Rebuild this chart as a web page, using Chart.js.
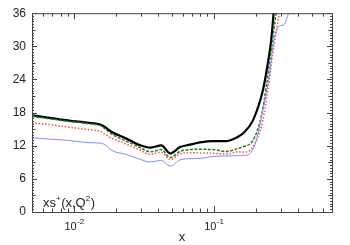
<!DOCTYPE html>
<html>
<head>
<meta charset="utf-8">
<script src="https://cdn.jsdelivr.net/npm/chart.js@4/dist/chart.umd.min.js"></script>
<style>
  html, body { margin: 0; padding: 0; background: #fff; }
  #wrap { width: 350px; height: 245px; position: relative; }
</style>
</head>
<body>
<div id="wrap"><canvas id="chart"></canvas></div>
<script>
// common x grid for the low-x part of the curves
const xGrid = [0.005, 0.00665, 0.0092, 0.0128, 0.01554, 0.0166, 0.0186, 0.0234, 0.0289, 0.0352, 0.0421, 0.0487, 0.0574, 0.0676, 0.0796, 0.0984, 0.1237, 0.148];

const blackY = [17.5, 17.05, 16.55, 16.15, 15.8, 15.4, 14.5, 13.35, 12.2, 11.65, 12.05, 10.6, 11.75, 12.2, 12.6, 12.85, 12.85, 13.6];
const greenY = [17.3, 16.9, 16.4, 16.0, 15.6, 15.1, 14.1, 12.9, 11.8, 10.9, 11.3, 9.85, 11.0, 11.3, 11.35, 11.3, 10.95, 11.5];
const redY   = [16.1, 15.85, 15.35, 14.9, 14.55, 14.1, 13.35, 12.35, 11.35, 10.45, 10.8, 9.5, 10.55, 10.75, 10.7, 10.65, 10.5, 10.9];
const blueY  = [13.45, 13.2, 12.95, 12.55, 12.45, 12.2, 11.15, 10.45, 9.65, 9.05, 9.35, 8.3, 9.45, 9.65, 9.7, 10.05, 10.15, 10.2];

// steep rise at high x, each curve its own points
const blackTailX = [0.1614, 0.190, 0.2238, 0.2428, 0.2567, 0.2676];
const blackTailY = [14.2, 16.55, 21.95, 26.8, 30.95, 36.0];
const greenTailX = [0.1614, 0.190, 0.218, 0.2365, 0.2567, 0.2786];
const greenTailY = [11.8, 12.95, 17.15, 22.55, 29.2, 36.0];
const redTailX   = [0.1614, 0.190, 0.2238, 0.2428, 0.2634, 0.2938];
const redTailY   = [10.85, 11.75, 16.55, 21.95, 28.6, 36.0];
const blueTailX  = [0.166, 0.185, 0.2008, 0.2238, 0.2497, 0.271, 0.294, 0.319, 0.331, 0.342];
const blueTailY  = [10.25, 10.85, 12.95, 18.35, 24.95, 31.6, 33.65, 33.95, 34.9, 36.0];

const yTicks = [0, 6, 12, 18, 24, 30, 36];
const xTickValues = [0.01, 0.1];
const xTickExps = ['-2', '-1'];

const FONT = "'Liberation Sans', Arial, Helvetica, sans-serif";

const toPoints = (xs, ys, tx, ty) =>
    xs.map((x, i) => ({ x: x, y: ys[i] })).concat(tx.map((x, i) => ({ x: x, y: ty[i] })));

// frame, inward ticks, superscript labels
const decorations = {
    id: 'decorations',
    afterDraw(chart) {
        const ctx = chart.ctx;
        const a = chart.chartArea;
        const xs = chart.scales.x;
        const ys = chart.scales.y;
        ctx.save();
        ctx.strokeStyle = '#444';
        ctx.lineWidth = 1;
        ctx.strokeRect(a.left + 0.5, a.top + 0.5, a.right - a.left, a.bottom - a.top);

        ctx.beginPath();
        // y ticks (left and right)
        for (let v = 0; v <= 36.001; v += 0.5) {
            const py = Math.round(ys.getPixelForValue(v)) + 0.5;
            let len = 2;
            if (Math.abs(v % 6) < 0.01) len = 5;
            else if (Math.abs(v % 3) < 0.01) len = 3.5;
            ctx.moveTo(a.left, py); ctx.lineTo(a.left + len, py);
            ctx.moveTo(a.right, py); ctx.lineTo(a.right - len, py);
        }
        // x ticks (bottom and top)
        const decades = [0.001, 0.01, 0.1];
        decades.forEach(d => {
            for (let m = 1; m <= 9; m++) {
                const v = m * d;
                if (v < xs.min || v > xs.max) continue;
                const px = Math.round(xs.getPixelForValue(v)) + 0.5;
                const len = m === 1 ? 6 : 3.5;
                ctx.moveTo(px, a.bottom); ctx.lineTo(px, a.bottom - len);
                ctx.moveTo(px, a.top); ctx.lineTo(px, a.top + len);
            }
        });
        ctx.stroke();

        // x tick labels 10^-n
        ctx.fillStyle = '#222';
        ctx.textBaseline = 'alphabetic';
        xTickValues.forEach((v, i) => {
            const px = xs.getPixelForValue(v);
            ctx.font = '11px ' + FONT;
            const w1 = ctx.measureText('10').width;
            ctx.font = '8px ' + FONT;
            const w2 = ctx.measureText(xTickExps[i]).width;
            const x0 = px - (w1 + w2) / 2;
            ctx.font = '11px ' + FONT;
            ctx.textAlign = 'left';
            ctx.fillText('10', x0, a.bottom + 18);
            ctx.font = '8px ' + FONT;
            ctx.fillText(xTickExps[i], x0 + w1 + 0.5, a.bottom + 12);
        });

        // curve label inside the plot
        let cx = a.left + 11;
        const base = a.bottom - 5;
        const parts = [['xs', 13, 0], ['+', 8, -6], ['(x,Q', 13, 0], ['2', 8, -6], [')', 13, 0]];
        ctx.textAlign = 'left';
        parts.forEach(p => {
            ctx.font = p[1] + 'px ' + FONT;
            ctx.fillText(p[0], cx, base + p[2]);
            cx += ctx.measureText(p[0]).width + (p[1] < 10 ? 0.5 : 0);
        });
        ctx.restore();
    }
};

new Chart(document.getElementById('chart'), {
    type: 'line',
    data: {
        datasets: [
            {
                label: 'blue',
                data: toPoints(xGrid, blueY, blueTailX, blueTailY),
                borderColor: '#7f8cff',
                borderWidth: 1,
                pointRadius: 0,
                cubicInterpolationMode: 'monotone'
            },
            {
                label: 'red',
                data: toPoints(xGrid, redY, redTailX, redTailY),
                borderColor: '#ff4a4a',
                borderWidth: 1.5,
                borderDash: [1.5, 1.8],
                pointRadius: 0,
                cubicInterpolationMode: 'monotone'
            },
            {
                label: 'green',
                data: toPoints(xGrid, greenY, greenTailX, greenTailY),
                borderColor: '#1e7a1e',
                borderWidth: 1.5,
                borderDash: [3, 1.5],
                pointRadius: 0,
                cubicInterpolationMode: 'monotone'
            },
            {
                label: 'black',
                data: toPoints(xGrid, blackY, blackTailX, blackTailY),
                borderColor: '#000',
                borderWidth: 2.2,
                pointRadius: 0,
                cubicInterpolationMode: 'monotone'
            }
        ]
    },
    options: {
        responsive: true,
        maintainAspectRatio: false,
        animation: false,
        events: [],
        layout: { padding: { left: 0, top: 12, right: 18, bottom: 0 } },
        plugins: {
            legend: { display: false },
            tooltip: { enabled: false }
        },
        scales: {
            x: {
                type: 'logarithmic',
                min: 0.005,
                max: 0.7,
                grid: { display: false, drawTicks: false },
                border: { display: false },
                ticks: { display: false },
                title: {
                    display: true,
                    text: 'x',
                    color: '#222',
                    font: { family: FONT, size: 13 },
                    padding: { top: 0, bottom: 0 }
                },
                afterFit(scale) { scale.height = 33; }
            },
            y: {
                type: 'linear',
                min: 0,
                max: 36,
                afterBuildTicks(scale) { scale.ticks = yTicks.map(v => ({ value: v })); },
                grid: { display: false, drawTicks: false },
                border: { display: false },
                ticks: {
                    color: '#222',
                    padding: 6,
                    font: { family: FONT, size: 12 }
                },
                afterFit(scale) { scale.width = 32; }
            }
        }
    },
    plugins: [decorations]
});
</script>
</body>
</html>
